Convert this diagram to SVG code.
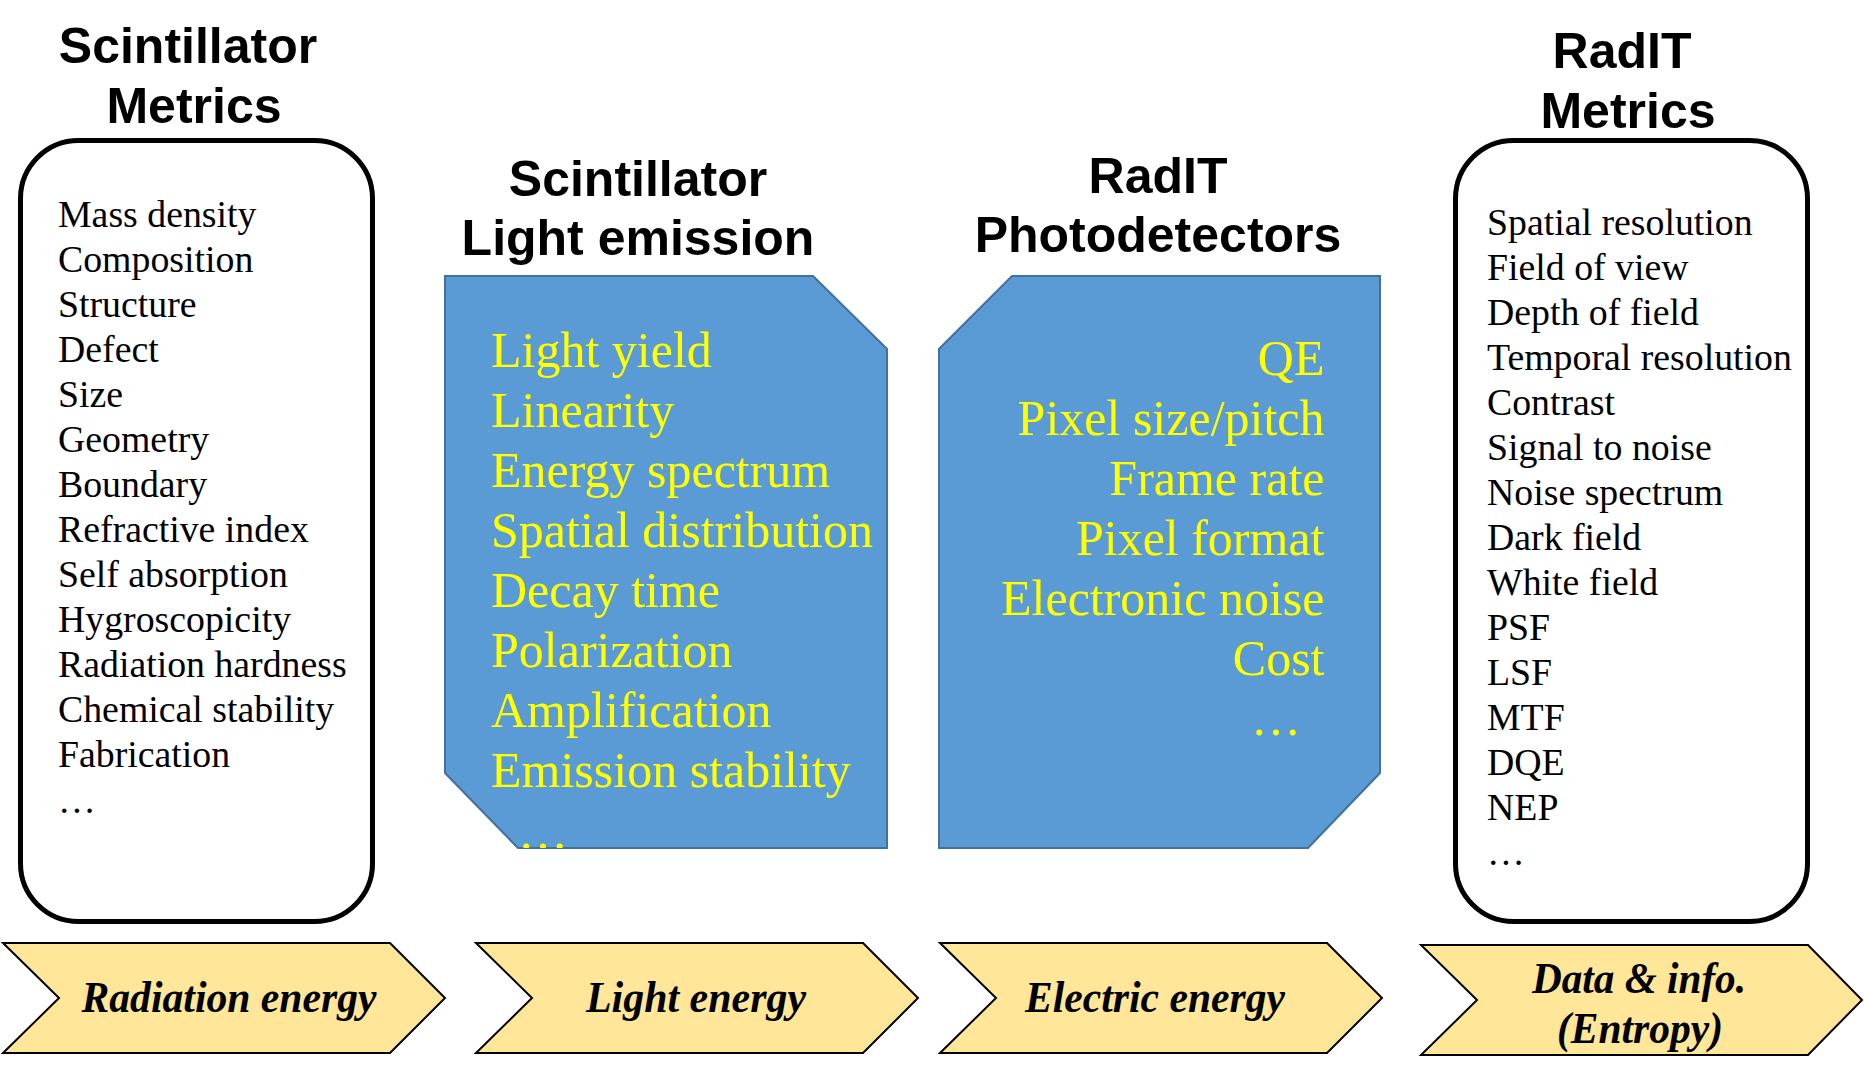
<svg xmlns="http://www.w3.org/2000/svg" width="1864" height="1077" viewBox="0 0 1864 1077">
  <style>
    .title { font-family: "Liberation Sans", Arial, sans-serif; font-weight: bold; font-size: 50px; fill: #000; text-anchor: middle; }
    .list { font-family: "Liberation Serif", "Times New Roman", serif; font-size: 37.8px; fill: #000; }
    .ylist { font-family: "Liberation Serif", "Times New Roman", serif; font-size: 50px; fill: #FFFF00; }
    .frame { fill: #fff; stroke: #000; stroke-width: 5; }
    .blue { fill: #5B9BD5; stroke: #41719C; stroke-width: 2; }
    .chev { fill: #FFE699; stroke: #000; stroke-width: 2; }
    .chevtxt { font-family: "Liberation Serif", "Times New Roman", serif; font-weight: bold; font-style: italic; font-size: 44px; fill: #000; text-anchor: middle; }
  </style>
  <defs>
    <clipPath id="clipBox1">
      <polygon points="445,276 813,276 887,349 887,848 518,848 445,773"/>
    </clipPath>
  </defs>
  <rect width="1864" height="1077" fill="#fff"/>

  <g id="scintillator-metrics">
    <text class="title" x="188" y="63">Scintillator</text>
    <text class="title" x="194" y="123">Metrics</text>
    <rect class="frame" x="20.5" y="140.5" width="352" height="781" rx="58" ry="58"/>
    <text class="list">
      <tspan x="58" y="227">Mass density</tspan>
      <tspan x="58" y="272">Composition</tspan>
      <tspan x="58" y="317">Structure</tspan>
      <tspan x="58" y="362">Defect</tspan>
      <tspan x="58" y="407">Size</tspan>
      <tspan x="58" y="452">Geometry</tspan>
      <tspan x="58" y="497">Boundary</tspan>
      <tspan x="58" y="542">Refractive index</tspan>
      <tspan x="58" y="587">Self absorption</tspan>
      <tspan x="58" y="632">Hygroscopicity</tspan>
      <tspan x="58" y="677">Radiation hardness</tspan>
      <tspan x="58" y="722">Chemical stability</tspan>
      <tspan x="58" y="767">Fabrication</tspan>
      <tspan x="58" y="813">…</tspan>
    </text>
  </g>

  <g id="light-emission">
    <text class="title" x="638" y="196">Scintillator</text>
    <text class="title" x="638" y="255">Light emission</text>
    <polygon class="blue" points="445,276 813,276 887,349 887,848 518,848 445,773"/>
    <text class="ylist">
      <tspan x="491" y="367">Light yield</tspan>
      <tspan x="491" y="427">Linearity</tspan>
      <tspan x="491" y="487">Energy spectrum</tspan>
      <tspan x="491" y="547">Spatial distribution</tspan>
      <tspan x="491" y="607">Decay time</tspan>
      <tspan x="491" y="667">Polarization</tspan>
      <tspan x="491" y="727">Amplification</tspan>
      <tspan x="491" y="787">Emission stability</tspan>
    </text>
    <text class="ylist" x="518" y="849" clip-path="url(#clipBox1)">…</text>
  </g>

  <g id="photodetectors">
    <text class="title" x="1158" y="193">RadIT</text>
    <text class="title" x="1158" y="252">Photodetectors</text>
    <polygon class="blue" points="1012,276 1380,276 1380,773 1308,848 939,848 939,349"/>
    <text class="ylist" text-anchor="end">
      <tspan x="1337" y="375">QE</tspan>
      <tspan x="1337" y="435">Pixel size/pitch</tspan>
      <tspan x="1337" y="495">Frame rate</tspan>
      <tspan x="1337" y="555">Pixel format</tspan>
      <tspan x="1337" y="615">Electronic noise</tspan>
      <tspan x="1337" y="675">Cost</tspan>
      <tspan x="1301" y="735">…</tspan>
    </text>
  </g>

  <g id="radit-metrics">
    <text class="title" x="1622" y="68">RadIT</text>
    <text class="title" x="1628" y="128">Metrics</text>
    <rect class="frame" x="1455.5" y="140.5" width="352" height="781" rx="58" ry="58"/>
    <text class="list">
      <tspan x="1487" y="235">Spatial resolution</tspan>
      <tspan x="1487" y="280">Field of view</tspan>
      <tspan x="1487" y="325">Depth of field</tspan>
      <tspan x="1487" y="370">Temporal resolution</tspan>
      <tspan x="1487" y="415">Contrast</tspan>
      <tspan x="1487" y="460">Signal to noise</tspan>
      <tspan x="1487" y="505">Noise spectrum</tspan>
      <tspan x="1487" y="550">Dark field</tspan>
      <tspan x="1487" y="595">White field</tspan>
      <tspan x="1487" y="640">PSF</tspan>
      <tspan x="1487" y="685">LSF</tspan>
      <tspan x="1487" y="730">MTF</tspan>
      <tspan x="1487" y="775">DQE</tspan>
      <tspan x="1487" y="820">NEP</tspan>
      <tspan x="1487" y="865">…</tspan>
    </text>
  </g>

  <g id="chevron-radiation">
    <polygon class="chev" points="3,943 390,943 445,998 390,1053 3,1053 59,998"/>
    <text class="chevtxt" x="229" y="1012" textLength="295" lengthAdjust="spacingAndGlyphs">Radiation energy</text>
  </g>
  <g id="chevron-light">
    <polygon class="chev" points="476,943 863,943 918,998 863,1053 476,1053 532,998"/>
    <text class="chevtxt" x="696" y="1012" textLength="220" lengthAdjust="spacingAndGlyphs">Light energy</text>
  </g>
  <g id="chevron-electric">
    <polygon class="chev" points="940,943 1327,943 1382,998 1327,1053 940,1053 996,998"/>
    <text class="chevtxt" x="1155" y="1012" textLength="260" lengthAdjust="spacingAndGlyphs">Electric energy</text>
  </g>
  <g id="chevron-data">
    <polygon class="chev" points="1421,945 1808,945 1862,1000 1808,1055 1421,1055 1477,1000"/>
    <text class="chevtxt" x="1639" y="993" textLength="214" lengthAdjust="spacingAndGlyphs">Data &amp; info.</text>
    <text class="chevtxt" x="1640" y="1043" textLength="166" lengthAdjust="spacingAndGlyphs">(Entropy)</text>
  </g>

  <g id="connectors"/>
</svg>
